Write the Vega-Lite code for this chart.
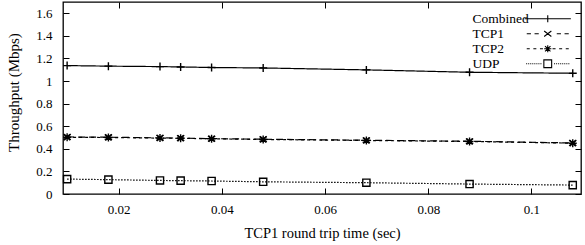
{
  "$schema": "https://vega.github.io/schema/vega-lite/v6.json",
  "width": 518,
  "height": 192,
  "autosize": "none",
  "padding": {"left": 63, "top": 2, "right": 4, "bottom": 51},
  "background": "white",
  "config": {
    "view": {"stroke": "black", "strokeWidth": 1.3},
    "font": "Liberation Serif",
    "axis": {"labelFont": "Liberation Serif", "titleFont": "Liberation Serif", "labelColor": "black", "titleColor": "black", "tickColor": "black", "labelFontWeight": "normal", "titleFontWeight": "normal"}
  },
  "data": {"values": [
    {"rtt": 0.010, "tput": 1.137, "series": "Combined"},
    {"rtt": 0.018, "tput": 1.132, "series": "Combined"},
    {"rtt": 0.028, "tput": 1.128, "series": "Combined"},
    {"rtt": 0.032, "tput": 1.125, "series": "Combined"},
    {"rtt": 0.038, "tput": 1.120, "series": "Combined"},
    {"rtt": 0.048, "tput": 1.116, "series": "Combined"},
    {"rtt": 0.068, "tput": 1.099, "series": "Combined"},
    {"rtt": 0.088, "tput": 1.078, "series": "Combined"},
    {"rtt": 0.108, "tput": 1.069, "series": "Combined"},
    {"rtt": 0.010, "tput": 0.505, "series": "TCP1"},
    {"rtt": 0.018, "tput": 0.503, "series": "TCP1"},
    {"rtt": 0.028, "tput": 0.497, "series": "TCP1"},
    {"rtt": 0.032, "tput": 0.495, "series": "TCP1"},
    {"rtt": 0.038, "tput": 0.490, "series": "TCP1"},
    {"rtt": 0.048, "tput": 0.485, "series": "TCP1"},
    {"rtt": 0.068, "tput": 0.476, "series": "TCP1"},
    {"rtt": 0.088, "tput": 0.467, "series": "TCP1"},
    {"rtt": 0.108, "tput": 0.452, "series": "TCP1"},
    {"rtt": 0.010, "tput": 0.502, "series": "TCP2"},
    {"rtt": 0.018, "tput": 0.500, "series": "TCP2"},
    {"rtt": 0.028, "tput": 0.495, "series": "TCP2"},
    {"rtt": 0.032, "tput": 0.493, "series": "TCP2"},
    {"rtt": 0.038, "tput": 0.489, "series": "TCP2"},
    {"rtt": 0.048, "tput": 0.483, "series": "TCP2"},
    {"rtt": 0.068, "tput": 0.474, "series": "TCP2"},
    {"rtt": 0.088, "tput": 0.465, "series": "TCP2"},
    {"rtt": 0.108, "tput": 0.450, "series": "TCP2"},
    {"rtt": 0.010, "tput": 0.132, "series": "UDP"},
    {"rtt": 0.018, "tput": 0.127, "series": "UDP"},
    {"rtt": 0.028, "tput": 0.120, "series": "UDP"},
    {"rtt": 0.032, "tput": 0.118, "series": "UDP"},
    {"rtt": 0.038, "tput": 0.115, "series": "UDP"},
    {"rtt": 0.048, "tput": 0.108, "series": "UDP"},
    {"rtt": 0.068, "tput": 0.100, "series": "UDP"},
    {"rtt": 0.088, "tput": 0.088, "series": "UDP"},
    {"rtt": 0.108, "tput": 0.079, "series": "UDP"}
  ]},
  "encoding": {
    "x": {"field": "rtt", "type": "quantitative", "scale": {"domain": [0.0092, 0.1096], "nice": false, "zero": false}},
    "y": {"field": "tput", "type": "quantitative", "scale": {"domain": [0, 1.7], "nice": false}}
  },
  "layer": [
    {
      "mark": {"type": "line", "color": "black", "strokeWidth": 1.2, "clip": true},
      "encoding": {
        "x": {"field": "rtt", "type": "quantitative", "axis": {"orient": "bottom", "values": [0.02, 0.04, 0.06, 0.08, 0.1], "format": "~g", "domain": false, "grid": false, "tickSize": -6, "labelPadding": 15, "labelFontSize": 13, "title": "TCP1 round trip time (sec)", "titleFontSize": 14.5, "titleBaseline": "middle", "titleX": 259, "titleY": 39}},
        "y": {"field": "tput", "type": "quantitative", "axis": {"orient": "left", "values": [0, 0.2, 0.4, 0.6, 0.8, 1, 1.2, 1.4, 1.6], "format": "~g", "domain": false, "grid": false, "tickSize": -6, "labelPadding": 17, "labelFontSize": 13, "title": "Throughput (Mbps)", "titleFontSize": 15, "titleAngle": -90, "titleBaseline": "middle", "titleX": -50, "titleY": 90}},
        "detail": {"field": "series"},
        "strokeDash": {"field": "series", "type": "nominal", "legend": null, "scale": {"domain": ["Combined", "TCP1", "TCP2", "UDP"], "range": [[1, 0], [7, 4], [3, 3], [1.5, 1.5]]}}
      }
    },
    {
      "mark": {"type": "point", "filled": false, "stroke": "black", "strokeWidth": 1.4, "size": 64, "opacity": 1},
      "encoding": {
        "x": {"field": "rtt", "type": "quantitative", "axis": {"orient": "top", "values": [0.02, 0.04, 0.06, 0.08, 0.1], "labels": false, "domain": false, "grid": false, "tickSize": -6, "title": null}},
        "y": {"field": "tput", "type": "quantitative", "axis": {"orient": "right", "values": [0, 0.2, 0.4, 0.6, 0.8, 1, 1.2, 1.4, 1.6], "labels": false, "domain": false, "grid": false, "tickSize": -6, "title": null}},
        "shape": {"field": "series", "type": "nominal", "legend": null, "scale": {"domain": ["Combined", "TCP1", "TCP2", "UDP"], "range": [
          "M-1,0H1M0,-1V1",
          "M-0.9,-0.7L0.9,0.7M-0.9,0.7L0.9,-0.7",
          "M-1,0H1M0,-1V1M-0.75,-0.75L0.75,0.75M-0.75,0.75L0.75,-0.75",
          "M-0.9,-0.9H0.9V0.9H-0.9Z"
        ]}}
      }
    },
    {
      "mark": {"type": "point", "filled": false, "stroke": "black", "opacity": 0},
      "encoding": {
        "x": {"field": "rtt", "type": "quantitative", "axis": null},
        "y": {"field": "tput", "type": "quantitative", "axis": null},
        "shape": {"field": "series", "type": "nominal", "scale": {"domain": ["Combined", "TCP1", "TCP2", "UDP"], "range": [
          "M-7.7,0H7.7M0,-1.2V1.2",
          "M-7,0H-5.6M-4.4,0H-3M-1.2,-0.9L1.2,0.9M-1.2,0.9L1.2,-0.9M3,0H4.4M5.6,0H7",
          "M-7,0H-6M-4.8,0H-3.8M-2.6,0H-1.6M1.6,0H2.6M3.8,0H4.8M6,0H7M-1.2,0H1.2M0,-1.2V1.2M-0.9,-0.9L0.9,0.9M-0.9,0.9L0.9,-0.9",
          "M-7.2,0H-6.86M-6.52,0H-6.18M-5.84,0H-5.5M-5.16,0H-4.82M-4.48,0H-4.14M-3.8,0H-3.46M-3.12,0H-2.78M-2.44,0H-2.1M2.1,0H2.44M2.78,0H3.12M3.46,0H3.8M4.14,0H4.48M4.82,0H5.16M5.5,0H5.84M6.18,0H6.52M6.86,0H7.2M-1.3,-1.3H1.3V1.3H-1.3Z"
        ]}, "legend": {"orient": "none", "legendX": 478, "legendY": 10, "title": null, "padding": 0, "rowPadding": 0, "symbolSize": 36, "symbolOpacity": 1, "symbolStrokeColor": "black", "symbolFillColor": "transparent", "symbolStrokeWidth": 1.1, "labelFont": "Liberation Serif", "labelFontSize": 13.5, "labelColor": "black", "labelAlign": "left", "labelOffset": -82}}
      }
    }
  ],
  "resolve": {"scale": {"shape": "independent"}, "axis": {"x": "independent", "y": "independent"}}
}
